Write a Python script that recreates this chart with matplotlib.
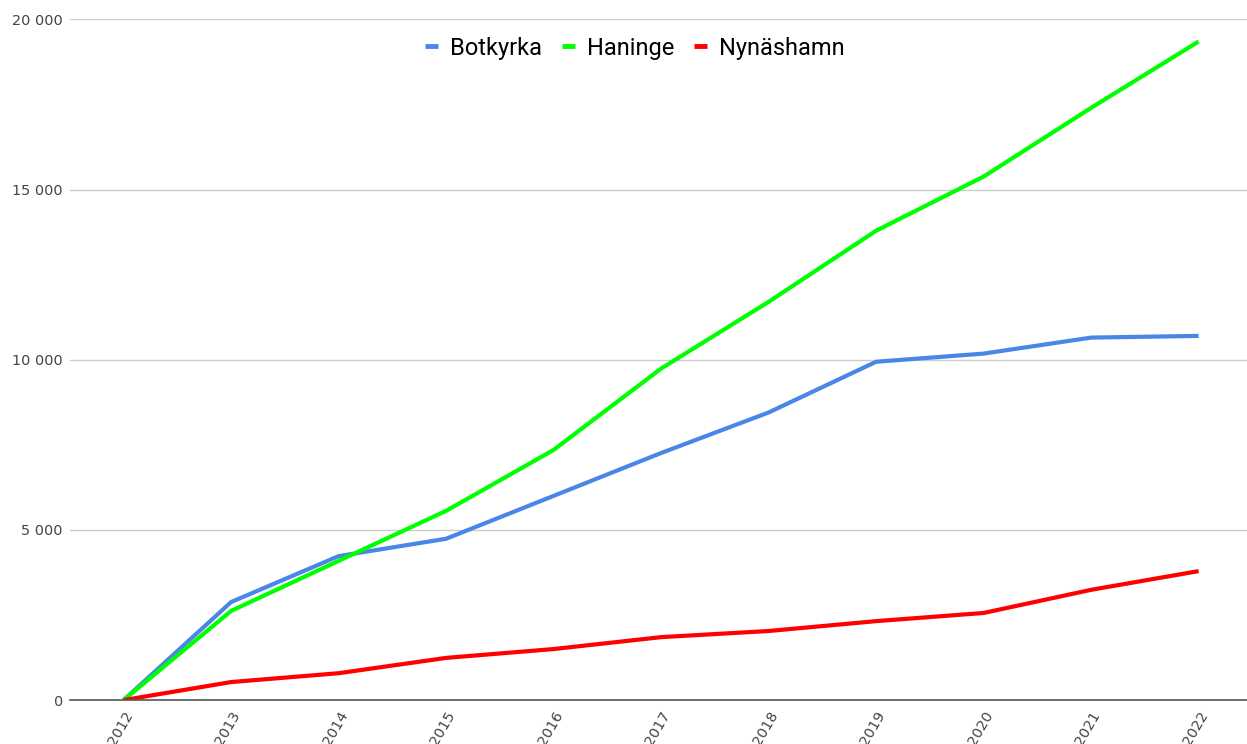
import matplotlib
matplotlib.use("Agg")
import matplotlib.pyplot as plt
from matplotlib.ticker import FuncFormatter

years = [2012, 2013, 2014, 2015, 2016, 2017, 2018, 2019, 2020, 2021, 2022]
botkyrka = [0, 2880, 4230, 4740, 6000, 7260, 8450, 9940, 10180, 10650, 10700]
haninge = [0, 2620, 4090, 5560, 7350, 9740, 11700, 13790, 15380, 17400, 19350]
nynashamn = [0, 530, 790, 1240, 1500, 1850, 2030, 2320, 2560, 3240, 3790]

series = [
    ("Botkyrka", botkyrka, "#4a86e8"),
    ("Haninge", haninge, "#00ff00"),
    ("Nynäshamn", nynashamn, "#ff0000"),
]

fig = plt.figure(figsize=(12.47, 7.44), dpi=100)
ax = fig.add_axes([0.056, 0.059, 0.944, 0.915])

for name, vals, col in series:
    ax.plot(years, vals, color=col, linewidth=3.0, label=name, solid_capstyle="butt")

ax.set_xlim(2011.5, 2022.45)
ax.set_ylim(0, 20000)
ax.set_yticks([0, 5000, 10000, 15000, 20000])
ax.yaxis.set_major_formatter(FuncFormatter(lambda v, p: f"{int(v):,}".replace(",", " ")))
ax.set_xticks(years)
# labels run off the bottom edge, same as the source chart
ax.set_xticklabels([str(y) for y in years], rotation=60, ha="right",
                   rotation_mode="anchor", fontsize=10.4, color="#444444")
ax.tick_params(axis="y", labelsize=10.4, labelcolor="#444444", length=0, pad=5)
ax.tick_params(axis="x", length=0, pad=6)

ax.grid(axis="y", color="#cccccc", linewidth=1)
ax.set_axisbelow(True)
for s in ["top", "right", "left"]:
    ax.spines[s].set_visible(False)
ax.spines["bottom"].set_color("#555555")
ax.spines["bottom"].set_linewidth(1.2)

leg = ax.legend(loc="upper center", bbox_to_anchor=(0.48, 1.006), ncol=3, frameon=False,
                handlelength=0.55, handletextpad=0.5, columnspacing=0.85,
                prop={"family": "Roboto", "size": 17})
for line in leg.get_lines():
    line.set_linewidth(3.5)

fig.savefig("out.png", dpi=100)
